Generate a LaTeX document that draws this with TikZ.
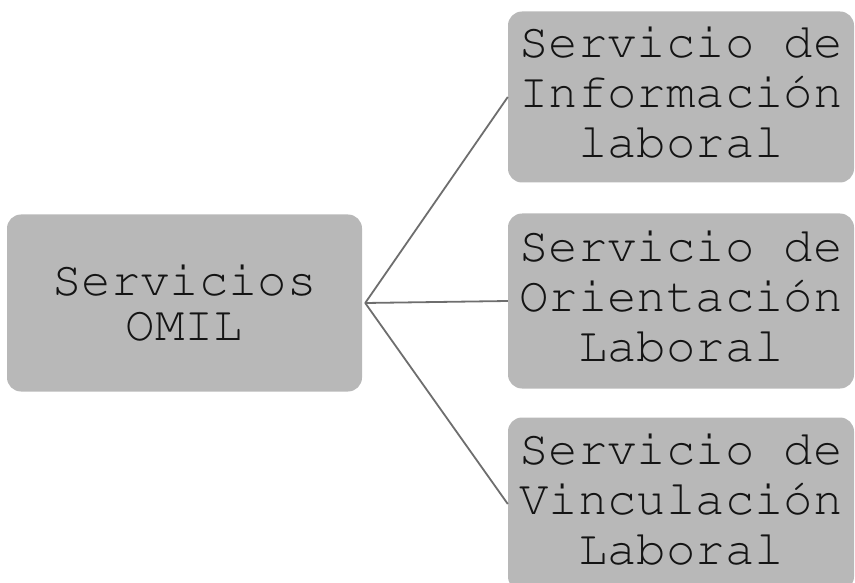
\documentclass[tikz,border=0pt]{standalone}
\usepackage[T1]{fontenc}
\usepackage{tikz}
\newcommand\omilfont{\fontfamily{pcr}\selectfont}
\definecolor{boxgray}{RGB}{184,184,184}
\definecolor{linegray}{RGB}{110,110,110}
\definecolor{textgray}{RGB}{20,20,20}

\begin{document}
\begin{tikzpicture}[x=1pt, y=-1pt,
		box_style/.style={rectangle,rounded corners=14pt,fill=boxgray,draw=none,align=center,inner sep=0pt,text=textgray,font=\omilfont\fontsize{49}{50}\selectfont},
		left_style/.style={box_style,minimum width=355pt,minimum height=177pt,font=\omilfont\fontsize{49}{45}\selectfont},
		right_style/.style={box_style,minimum width=346pt,minimum height=173pt,execute at end node={\rule[-10pt]{0pt}{0pt}}},
		edge_style/.style={draw=linegray,line width=1.8pt}]

	\path[use as bounding box,clip] (0,0) rectangle (855,583);

	\node[left_style] (n0) at (184.5,303) {Servicios\\OMIL};
	\node[right_style, minimum height=171pt] (n1) at (681,97) {Servicio de\\Informaci\'on\\laboral};
	\node[right_style, minimum height=175pt] (n2) at (681,301) {Servicio de\\Orientaci\'on\\Laboral};
	\node[right_style] (n3) at (681,504) {Servicio de\\Vinculaci\'on\\Laboral};

	\coordinate (hub) at ([xshift=3pt]n0.east);

	\draw[edge_style]  (hub) edge (n1.west);
	\draw[edge_style]  (hub) edge (n2.west);
	\draw[edge_style]  (hub) edge (n3.west);
\end{tikzpicture}
\end{document}
